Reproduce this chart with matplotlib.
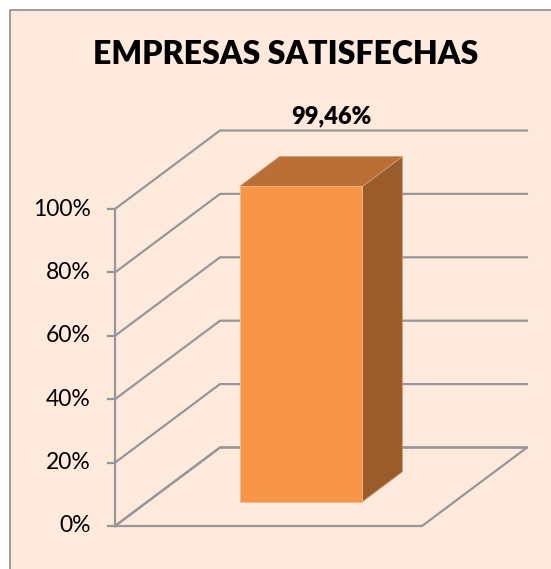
import matplotlib
matplotlib.use("Agg")
import matplotlib.pyplot as plt
from matplotlib.patches import Polygon, Rectangle
from matplotlib.lines import Line2D

# data
categories = ["EMPRESAS SATISFECHAS"]
values = [99.46]
value_labels = ["99,46%"]
ticks = [0, 20, 40, 60, 80, 100]
tick_labels = ["0%", "20%", "40%", "60%", "80%", "100%"]
title = "EMPRESAS SATISFECHAS"

plt.rcParams['font.family'] = ['Lato', 'DejaVu Sans']

bg = '#fdeadc'
grid_col = '#979797'
front_col = '#f79646'
top_col = '#b96f35'
side_col = '#9b5c2b'

fig = plt.figure(figsize=(5.51, 5.69), dpi=100)
fig.patch.set_facecolor('white')
fig.add_artist(Rectangle((10 / 551, 0), 1, 1 - 10 / 569, transform=fig.transFigure,
                         facecolor=bg, edgecolor='none', zorder=-10))
fig.add_artist(Line2D([10 / 551, 10 / 551, 1], [0, 1 - 10 / 569, 1 - 10 / 569],
                      transform=fig.transFigure, color='#8c8c8c', lw=1.2))

ax = fig.add_axes([0, 0, 1, 1])
ax.axis('off')
ax.set_facecolor('none')
s = 3.17  # px per unit
ax.set_xlim(-115 / s, (551 - 115) / s)
ax.set_ylim((526 - 569) / s, 526 / s)

# oblique depth vector and floor width
DX, DY = 105 / s, 78.5 / s
W = 307 / s


def proj(x, z, d):
    return (x + d * DX, z + d * DY)


# walls / gridlines
for t in ticks:
    pts = [proj(0, t, 0), proj(0, t, 1), proj(W, t, 1)]
    ax.plot([p[0] for p in pts], [p[1] for p in pts], color=grid_col, lw=1.6,
            solid_joinstyle='miter')
floor = [proj(0, 0, 0), proj(W, 0, 0), proj(W, 0, 1), proj(0, 0, 1), proj(0, 0, 0)]
ax.plot([p[0] for p in floor], [p[1] for p in floor], color=grid_col, lw=1.6)
ax.plot([0, 0], [0, ticks[-1]], color=grid_col, lw=1.6)
for t, lab in zip(ticks, tick_labels):
    ax.plot([-2.3, 0], [t, t], color=grid_col, lw=1.6)
    ax.text(-7.6, t, lab, ha='right', va='center', fontsize=16.5, color='black')

# bars
n = len(categories)
cat_w = W / n
bw = cat_w * 0.40
d0, d1 = 0.31, 0.69
for i, (v, lab) in enumerate(zip(values, value_labels)):
    x0 = i * cat_w + (cat_w - bw) / 2
    x1 = x0 + bw
    side = [proj(x1, 0, d0), proj(x1, 0, d1), proj(x1, v, d1), proj(x1, v, d0)]
    top = [proj(x0, v, d0), proj(x1, v, d0), proj(x1, v, d1), proj(x0, v, d1)]
    front = [proj(x0, 0, d0), proj(x1, 0, d0), proj(x1, v, d0), proj(x0, v, d0)]
    ax.add_patch(Polygon(side, closed=True, facecolor=side_col, edgecolor='#c89a78', lw=0.6, zorder=3))
    ax.add_patch(Polygon(top, closed=True, facecolor=top_col, edgecolor='#c89a78', lw=0.6, zorder=3))
    ax.add_patch(Polygon(front, closed=True, facecolor=front_col, edgecolor='#f2b98c', lw=0.6, zorder=4))
    lx, _ = proj((x0 + x1) / 2, v, 0.6)
    _, ly = proj(0, ticks[-1], 1)
    ax.text(lx, ly + 2.3, lab, ha='center', va='baseline', fontsize=17,
            fontweight='heavy', color='black')

fig.text(285.5 / 551, 1 - 54.7 / 569, title, ha='center', va='center', fontsize=23,
         fontweight='heavy', color='black')

fig.savefig('out.png', dpi=100, facecolor=fig.get_facecolor())
